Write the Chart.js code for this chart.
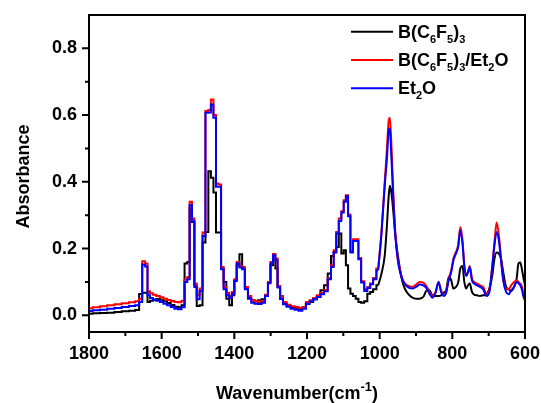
<!DOCTYPE html>
<html>
<head>
<meta charset="utf-8">
<script src="https://cdn.jsdelivr.net/npm/chart.js@4.4.1/dist/chart.umd.min.js"></script>
<style>
  html, body { margin: 0; padding: 0; background: #fff; }
  #wrap { width: 541px; height: 403px; position: relative; }
</style>
</head>
<body>
<div id="wrap"><canvas id="irChart" width="541" height="403"></canvas></div>
<script>
// --- data ---
// 1800-1004 cm-1 region (stepped, low resolution)
const wnLeft = [1800, 1780, 1760, 1740, 1720, 1700, 1680, 1666, 1658, 1649, 1642, 1636, 1628, 1620, 1610, 1600,
    1590, 1580, 1570, 1560, 1550, 1541, 1533, 1526, 1520, 1513, 1507, 1500, 1491, 1484, 1475, 1468, 1461, 1454,
    1447, 1440, 1433, 1426, 1418, 1410, 1403, 1397, 1390, 1382, 1375, 1367, 1358, 1349, 1340, 1330, 1320, 1311,
    1304, 1297, 1290, 1284, 1278, 1270, 1262, 1250, 1240, 1228, 1218, 1208, 1198, 1188, 1178, 1168, 1158, 1148,
    1138, 1130, 1123, 1116, 1109, 1102, 1096, 1090, 1084, 1077, 1070, 1062, 1055, 1047, 1038, 1030, 1022, 1014, 1004];
const bcfLeft = [0.005, 0.006, 0.007, 0.008, 0.010, 0.012, 0.014, 0.016, 0.064, 0.068, 0.068, 0.040, 0.044, 0.047, 0.049, 0.047,
    0.042, 0.037, 0.031, 0.026, 0.024, 0.030, 0.155, 0.160, 0.320, 0.280, 0.090, 0.028, 0.030, 0.218, 0.250, 0.432, 0.412, 0.368,
    0.248, 0.248, 0.140, 0.100, 0.050, 0.030, 0.060, 0.105, 0.150, 0.183, 0.140, 0.080, 0.052, 0.045, 0.042, 0.045, 0.048, 0.060,
    0.100, 0.150, 0.170, 0.140, 0.085, 0.050, 0.035, 0.028, 0.023, 0.020, 0.018, 0.022, 0.035, 0.040, 0.048, 0.055, 0.075, 0.090,
    0.125, 0.178, 0.190, 0.205, 0.245, 0.185, 0.195, 0.150, 0.080, 0.065, 0.058, 0.050, 0.040, 0.038, 0.042, 0.065, 0.070, 0.078, 0.090];
const mixLeft = [0.021, 0.024, 0.027, 0.030, 0.033, 0.036, 0.039, 0.042, 0.050, 0.162, 0.155, 0.072, 0.066, 0.062, 0.058, 0.054,
    0.050, 0.046, 0.043, 0.040, 0.039, 0.044, 0.107, 0.115, 0.340, 0.290, 0.095, 0.060, 0.080, 0.248, 0.612, 0.615, 0.647, 0.600,
    0.395, 0.392, 0.145, 0.085, 0.068, 0.058, 0.070, 0.108, 0.160, 0.148, 0.145, 0.085, 0.058, 0.045, 0.042, 0.040, 0.043, 0.062,
    0.100, 0.160, 0.184, 0.170, 0.088, 0.058, 0.040, 0.032, 0.027, 0.025, 0.022, 0.025, 0.040, 0.045, 0.052, 0.060, 0.068, 0.076,
    0.112, 0.150, 0.195, 0.250, 0.290, 0.312, 0.345, 0.360, 0.302, 0.192, 0.228, 0.228, 0.172, 0.102, 0.078, 0.085, 0.095, 0.112, 0.140];
const etherLeft = [0.013, 0.015, 0.017, 0.020, 0.022, 0.025, 0.028, 0.030, 0.040, 0.152, 0.146, 0.060, 0.052, 0.047, 0.044, 0.040,
    0.035, 0.030, 0.025, 0.020, 0.018, 0.024, 0.100, 0.108, 0.330, 0.282, 0.085, 0.048, 0.073, 0.238, 0.607, 0.608, 0.632, 0.592,
    0.385, 0.385, 0.138, 0.078, 0.060, 0.052, 0.065, 0.103, 0.155, 0.143, 0.138, 0.078, 0.050, 0.038, 0.035, 0.034, 0.038, 0.058,
    0.096, 0.155, 0.180, 0.165, 0.083, 0.050, 0.033, 0.026, 0.020, 0.017, 0.014, 0.020, 0.035, 0.042, 0.048, 0.055, 0.063, 0.072,
    0.108, 0.145, 0.188, 0.245, 0.283, 0.308, 0.340, 0.357, 0.297, 0.188, 0.223, 0.223, 0.168, 0.098, 0.073, 0.082, 0.093, 0.108, 0.135];

// 1004-600 cm-1 region (smooth)
const wnRight = [1004, 995, 986, 980, 975, 972, 968, 963, 957, 950, 944, 937, 930, 920, 910, 900, 890, 880, 870, 863, 855,
    846, 838, 831, 824, 817, 810, 803, 797, 790, 784, 778, 772, 767, 762, 757, 752, 746, 740, 732, 724, 715, 706, 698,
    690, 684, 678, 672, 666, 660, 652, 645, 638, 630, 623, 618, 613, 608, 604, 600];
const bcfRight = [0.090, 0.125, 0.180, 0.270, 0.360, 0.388, 0.370, 0.318, 0.240, 0.180, 0.138, 0.100, 0.078, 0.062, 0.053, 0.050, 0.050, 0.055, 0.075, 0.075, 0.060,
    0.058, 0.058, 0.060, 0.068, 0.075, 0.115, 0.105, 0.080, 0.085, 0.098, 0.140, 0.148, 0.100, 0.080, 0.090, 0.095, 0.070, 0.062, 0.060, 0.058, 0.060, 0.063, 0.080,
    0.120, 0.170, 0.188, 0.185, 0.170, 0.130, 0.085, 0.078, 0.073, 0.085, 0.110, 0.155, 0.158, 0.135, 0.110, 0.090];
const mixRight = [0.140, 0.250, 0.400, 0.500, 0.585, 0.592, 0.520, 0.380, 0.250, 0.170, 0.135, 0.108, 0.095, 0.088, 0.085, 0.092, 0.100, 0.098, 0.085, 0.070, 0.058,
    0.070, 0.100, 0.075, 0.060, 0.070, 0.110, 0.135, 0.170, 0.190, 0.210, 0.265, 0.225, 0.150, 0.120, 0.130, 0.148, 0.110, 0.100, 0.095, 0.090, 0.085, 0.065, 0.075,
    0.150, 0.220, 0.278, 0.240, 0.170, 0.110, 0.080, 0.078, 0.090, 0.100, 0.105, 0.100, 0.095, 0.085, 0.060, 0.050];
const etherRight = [0.135, 0.245, 0.390, 0.470, 0.555, 0.560, 0.480, 0.360, 0.240, 0.165, 0.130, 0.105, 0.092, 0.083, 0.080, 0.085, 0.092, 0.090, 0.080, 0.065, 0.053,
    0.068, 0.100, 0.070, 0.058, 0.068, 0.105, 0.130, 0.165, 0.185, 0.205, 0.255, 0.215, 0.145, 0.118, 0.128, 0.145, 0.105, 0.095, 0.090, 0.085, 0.078, 0.058, 0.070,
    0.145, 0.210, 0.250, 0.225, 0.165, 0.105, 0.070, 0.063, 0.075, 0.085, 0.100, 0.096, 0.090, 0.075, 0.055, 0.045];

// axis ticks
const xMajor = [1800, 1600, 1400, 1200, 1000, 800, 600];
const xMinor = [1700, 1500, 1300, 1100, 900, 700];
const yMajor = [0.0, 0.2, 0.4, 0.6, 0.8];
const yMinor = [0.1, 0.3, 0.5, 0.7];

// legend entries, text pieces: [text, isSubscript]
const seriesNames = ['B(C6F5)3', 'B(C6F5)3/Et2O', 'Et2O'];
const seriesColors = ['#000000', '#ff0000', '#0000ff'];
const legendParts = [
    [['B(C', 0], ['6', 1], ['F', 0], ['5', 1], [')', 0], ['3', 1]],
    [['B(C', 0], ['6', 1], ['F', 0], ['5', 1], [')', 0], ['3', 1], ['/Et', 0], ['2', 1], ['O', 0]],
    [['Et', 0], ['2', 1], ['O', 0]]
];

const FONT = '"Liberation Sans", Arial, sans-serif';
const toPts = (xs, ys) => xs.map((x, i) => ({ x: x, y: ys[i] }));

const leftSets = [bcfLeft, mixLeft, etherLeft];
const rightSets = [bcfRight, mixRight, etherRight];
const drawOrder = [2, 1, 0]; // blue on top, black underneath

const datasets = [];
seriesNames.forEach((name, i) => {
    datasets.push({
        label: name,
        data: toPts(wnLeft, leftSets[i]),
        borderColor: seriesColors[i],
        borderWidth: 2,
        pointRadius: 0,
        stepped: 'middle',
        order: drawOrder[i]
    });
    datasets.push({
        label: name + ' (fine)',
        data: toPts(wnRight, rightSets[i]),
        borderColor: seriesColors[i],
        borderWidth: 2,
        pointRadius: 0,
        cubicInterpolationMode: 'monotone',
        order: drawOrder[i]
    });
});

function drawRich(ctx, parts, x, y) {
    parts.forEach(([t, sub]) => {
        ctx.font = sub ? 'bold 11px ' + FONT : 'bold 18px ' + FONT;
        ctx.fillText(t, x, sub ? y + 5 : y);
        x += ctx.measureText(t).width;
    });
}

const decorPlugin = {
    id: 'decor',
    afterDraw(chart) {
        const { ctx, chartArea: a, scales: { x, y } } = chart;
        ctx.save();
        ctx.strokeStyle = '#000';
        ctx.lineWidth = 2;
        ctx.strokeRect(a.left, a.top, a.right - a.left, a.bottom - a.top);

        // tick marks, outside only
        ctx.beginPath();
        xMajor.forEach(v => { const p = x.getPixelForValue(v); ctx.moveTo(p, a.bottom); ctx.lineTo(p, a.bottom + 7); });
        xMinor.forEach(v => { const p = x.getPixelForValue(v); ctx.moveTo(p, a.bottom); ctx.lineTo(p, a.bottom + 4); });
        yMajor.forEach(v => { const p = y.getPixelForValue(v); ctx.moveTo(a.left, p); ctx.lineTo(a.left - 7, p); });
        yMinor.forEach(v => { const p = y.getPixelForValue(v); ctx.moveTo(a.left, p); ctx.lineTo(a.left - 4, p); });
        ctx.stroke();

        ctx.fillStyle = '#000';
        ctx.textBaseline = 'alphabetic';

        // x title with superscript
        ctx.font = 'bold 18px ' + FONT;
        const t1 = 'Wavenumber(cm', t3 = ')';
        const w1 = ctx.measureText(t1).width, w3 = ctx.measureText(t3).width;
        ctx.font = 'bold 13px ' + FONT;
        const w2 = ctx.measureText('-1').width;
        let tx = 297 - (w1 + w2 + w3) / 2;
        const ty = 399;
        ctx.font = 'bold 18px ' + FONT;
        ctx.fillText(t1, tx, ty);
        ctx.font = 'bold 13px ' + FONT;
        ctx.fillText('-1', tx + w1, ty - 8);
        ctx.font = 'bold 18px ' + FONT;
        ctx.fillText(t3, tx + w1 + w2, ty);

        // y title
        ctx.save();
        ctx.translate(28.5, 176.5);
        ctx.rotate(-Math.PI / 2);
        ctx.textAlign = 'center';
        ctx.fillText('Absorbance', 0, 0);
        ctx.restore();

        // legend
        legendParts.forEach((parts, i) => {
            const ly = 31.7 + i * 28.3;
            ctx.strokeStyle = seriesColors[i];
            ctx.lineWidth = 2;
            ctx.beginPath();
            ctx.moveTo(351, ly);
            ctx.lineTo(393, ly);
            ctx.stroke();
            ctx.fillStyle = '#000';
            drawRich(ctx, parts, 398, ly + 6);
        });
        ctx.restore();
    }
};

new Chart(document.getElementById('irChart'), {
    type: 'line',
    data: { datasets: datasets },
    options: {
        responsive: false,
        animation: false,
        layout: { padding: { left: 0, right: 16, top: 15, bottom: 0 } },
        plugins: { legend: { display: false }, tooltip: { enabled: false } },
        scales: {
            x: {
                type: 'linear',
                reverse: true,
                min: 600,
                max: 1800,
                afterBuildTicks: s => { s.ticks = xMajor.map(v => ({ value: v })); },
                afterFit: s => { s.height = 71; s.paddingLeft = 0; s.paddingRight = 0; },
                grid: { drawOnChartArea: false, drawTicks: false },
                border: { display: false },
                ticks: {
                    autoSkip: false,
                    maxRotation: 0,
                    padding: 11,
                    color: '#000',
                    font: { family: FONT, size: 18, weight: 'bold' },
                    callback: v => String(v)
                }
            },
            y: {
                min: -0.05,
                max: 0.9,
                afterBuildTicks: s => { s.ticks = yMajor.map(v => ({ value: v })); },
                afterFit: s => { s.width = 89; s.paddingTop = 0; s.paddingBottom = 0; },
                grid: { drawOnChartArea: false, drawTicks: false },
                border: { display: false },
                ticks: {
                    padding: 12,
                    color: '#000',
                    font: { family: FONT, size: 18, weight: 'bold' },
                    callback: v => v.toFixed(1)
                }
            }
        }
    },
    plugins: [decorPlugin]
});
</script>
</body>
</html>
